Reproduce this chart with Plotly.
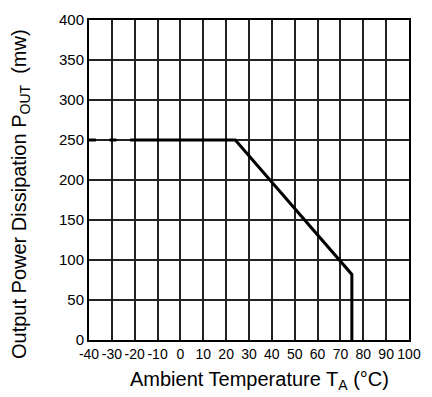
import plotly.graph_objects as go

# Data
dash_x = [-40, -37, None, -31, -28]
dash_y = [250, 250, None, 250, 250]
curve_x = [-22, 24, 75, 75]
curve_y = [250, 250, 82, 0]
x_ticks = list(range(-40, 101, 10))
y_ticks = list(range(0, 401, 50))
x_title = "Ambient Temperature T<sub>A</sub> (°C)"
y_title = "Output Power Dissipation P<sub>OUT</sub>  (mw)"

fig = go.Figure()
fig.add_trace(go.Scatter(x=dash_x, y=dash_y, mode="lines",
                         line=dict(color="black", width=3), connectgaps=False,
                         hoverinfo="skip"))
fig.add_trace(go.Scatter(x=curve_x, y=curve_y, mode="lines",
                         line=dict(color="black", width=3),
                         hoverinfo="skip"))

font_family = "Liberation Sans, Arial, sans-serif"
W, H = 432, 397
ml, mr, mt, mb = 89, 14, 11, 57
fig.update_layout(
    width=W, height=H,
    margin=dict(l=ml, r=mr, t=mt, b=mb),
    paper_bgcolor="white", plot_bgcolor="white",
    showlegend=False,
    font=dict(family=font_family, color="black", size=14),
    xaxis=dict(range=[-40, 100], tickvals=x_ticks,
               ticktext=[str(v) for v in x_ticks],
               showgrid=True, gridcolor="#222", gridwidth=1.5,
               zeroline=False, showline=True, linecolor="black", linewidth=2,
               mirror=True, ticks="", ticklen=0,
               tickfont=dict(size=14), tickangle=0),
    yaxis=dict(range=[0, 400], tickvals=y_ticks,
               ticktext=[str(v) for v in y_ticks],
               showgrid=True, gridcolor="#222", gridwidth=1.5,
               zeroline=False, showline=True, linecolor="black", linewidth=2,
               mirror=True, ticks="", ticklen=0,
               tickfont=dict(size=15)),
)

pw = W - ml - mr
ph = H - mt - mb
# x title: centered ~ x=264px, y~382px
fig.add_annotation(text=x_title, showarrow=False,
                   xref="paper", yref="paper",
                   x=(264 - ml) / pw, y=-(382 - (H - mb)) / ph,
                   xanchor="center", yanchor="middle",
                   font=dict(size=20))
# y title: centered ~ x=18px, y~190px
fig.add_annotation(text=y_title, showarrow=False, textangle=-90,
                   xref="paper", yref="paper",
                   x=-(ml - 18) / pw, y=1 - (190 - mt) / ph,
                   xanchor="center", yanchor="middle",
                   font=dict(size=20))

fig.write_html("out.html")
